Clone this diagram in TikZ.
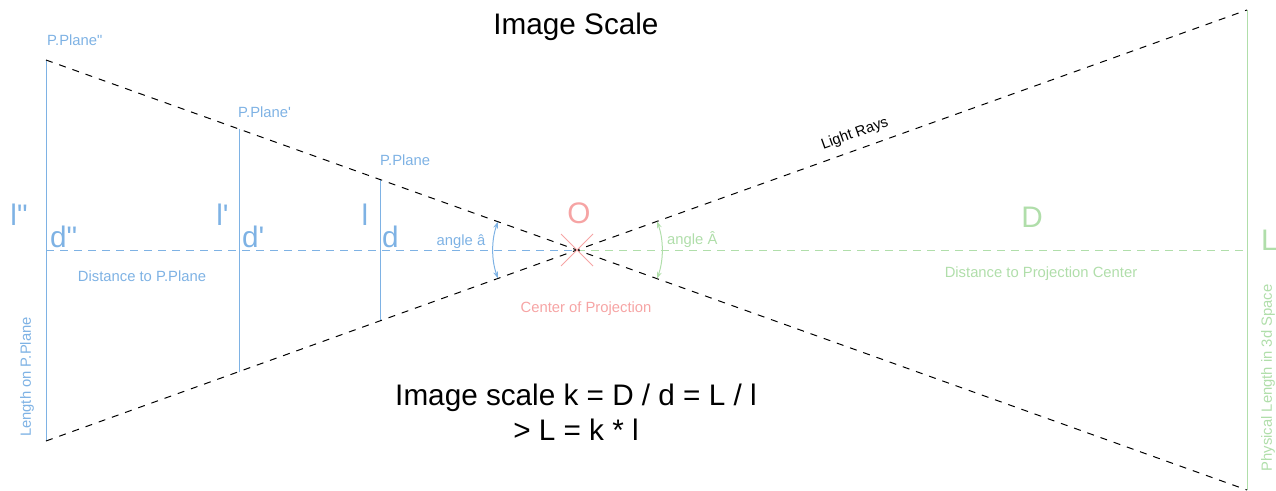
\documentclass[tikz,border=0pt]{standalone}
\usepackage{fontspec}
\setmainfont{Liberation Sans}
\usetikzlibrary{arrows.meta}
\definecolor{pblue}{RGB}{126,178,228}
\definecolor{pgreen}{RGB}{176,222,170}
\definecolor{ppink}{RGB}{246,164,164}
\begin{document}
\begin{tikzpicture}[x=1pt,y=-1pt,
  big/.style={font=\fontsize{29.7}{35}\selectfont, inner sep=0pt},
  small/.style={font=\fontsize{14.8}{17}\selectfont, inner sep=0pt},
  ray/.style={black, line width=1pt, dash pattern=on 7pt off 7pt},
  axisblue/.style={pblue, line width=1pt, dash pattern=on 8pt off 6pt},
  axisgreen/.style={pgreen, line width=1pt, dash pattern=on 8pt off 6pt},
  planeline/.style={pblue, line width=1pt},
  anglearc/.style={line width=1pt, {Stealth[length=7pt,width=5pt]}-{Stealth[length=7pt,width=5pt]}}]
\useasboundingbox (0,0) rectangle (1276,490);

% coordinates
\coordinate (O) at (577,250);
\coordinate (p2t) at (46,60);
\coordinate (p2b) at (46,441);
\coordinate (p1t) at (239,129);
\coordinate (p1b) at (239,372);
\coordinate (p0t) at (380,179.5);
\coordinate (p0b) at (380,321);
\coordinate (Rt) at (1247,10);
\coordinate (Rb) at (1247,490);
\coordinate (axL) at (46,250);
\coordinate (axR) at (1247,250);

% axis
\draw[axisblue] (axL) -- (O);
\draw[axisgreen] (O) -- (axR);

% planes
\draw[planeline] (p2t) -- (p2b);
\draw[planeline] (p1t) -- (p1b);
\draw[planeline] (p0t) -- (p0b);
\draw[pgreen, line width=1pt] (Rt) -- (Rb);

% light rays
\draw[ray] (p2t) -- (O) -- (Rb);
\draw[ray] (p2b) -- (O) -- (Rt);

% center cross
\draw[ppink, line width=1pt] (561,234) -- (593,266);
\draw[ppink, line width=1pt] (561,266) -- (593,234);

% angle arcs
\draw[anglearc, pblue] (O) ++(160.3:84) arc[start angle=160.3, end angle=199.7, radius=84];
\draw[anglearc, pgreen] (O) ++(-19.7:85) arc[start angle=-19.7, end angle=19.7, radius=85];

% titles
\node[big, anchor=base] (title) at (576,34.5) {Image Scale};
\node[big, anchor=base] (f1) at (576,405) {Image scale k = D / d = L / l};
\node[big, anchor=base] (f2) at (576,440) {> L = k * l};

% plane labels
\node[small, pblue, anchor=base west] (lp2) at (47,45) {P.Plane\textquotedbl};
\node[small, pblue, anchor=base west] (lp1) at (238,117) {P.Plane\textquotesingle};
\node[small, pblue, anchor=base west] (lp0) at (380,165) {P.Plane};

% big letters
\node[big, pblue, anchor=base] (l2) at (19,225) {l\textquotedbl};
\node[big, pblue, anchor=base] (l1) at (222.5,225) {l\textquotesingle};
\node[big, pblue, anchor=base] (l0) at (365,225) {l};
\node[big, pblue, anchor=base west] (d2) at (50,247) {d\textquotedbl};
\node[big, pblue, anchor=base west] (d1) at (242,247) {d\textquotesingle};
\node[big, pblue, anchor=base west] (d0) at (382,247) {d};
\node[big, ppink, anchor=base] (Olab) at (579,223) {O};
\node[big, pgreen, anchor=base] (Dlab) at (1032,227) {D};
\node[big, pgreen, anchor=base west] (Llab) at (1261,250) {L};

% small texts
\node[small, pblue, anchor=base] (dist) at (142,281) {Distance to P.Plane};
\node[small, pblue, anchor=base] (anga) at (461,245) {angle â};
\node[small, pgreen, anchor=base west] (angA) at (667,244) {angle Â};
\node[small, ppink, anchor=base] (cop) at (586,312) {Center of Projection};
\node[small, pgreen, anchor=base] (distpc) at (1041,277) {Distance to Projection Center};
\node[small, pblue, rotate=90] (lenp) at (27,377) {Length on P.Plane};
\node[small, pgreen, rotate=90] (phys) at (1268,378) {Physical Length in 3d Space};
\node[small, black, rotate=19.7] (lr) at (855,134) {Light Rays};
\end{tikzpicture}
\end{document}
